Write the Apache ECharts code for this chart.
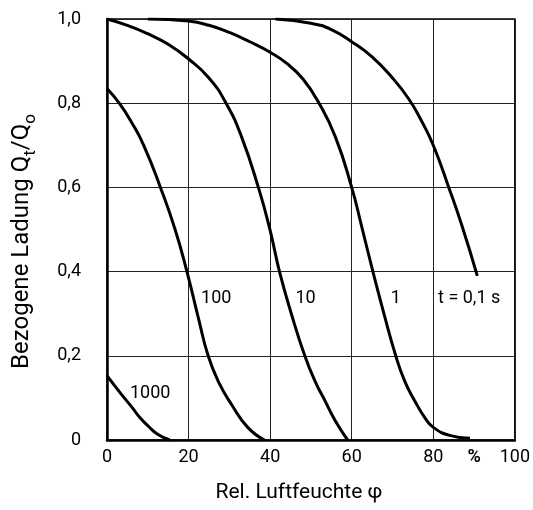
<!DOCTYPE html>
<html>
<head>
<meta charset="utf-8">
<script src="https://cdn.jsdelivr.net/npm/echarts@6/dist/echarts.min.js"></script>
<style>
  html, body { margin: 0; padding: 0; background: #fff; }
  #plot { width: 533px; height: 510px; }
</style>
</head>
<body>
<div id="plot"></div>
<script>
// Charge decay vs. relative humidity, one curve per time t

// DATA: [humidity %, Q_t/Q_0]
const curve1000 = [[0, 0.153], [3, 0.115], [6.1, 0.078], [8, 0.054], [10.2, 0.032], [12.5, 0.013], [15.4, 0.0]];
const curve100 = [[0, 0.835], [3, 0.80], [6, 0.755], [9, 0.70], [13.1, 0.60], [16.7, 0.50], [19.6, 0.40], [22.4, 0.29], [24.8, 0.20], [27.5, 0.135], [30.5, 0.085], [34.5, 0.03], [38.6, 0.0]];
const curve10 = [[0, 1.0], [5, 0.985], [10, 0.965], [15, 0.94], [20, 0.905], [25, 0.86], [29.2, 0.80], [33, 0.72], [37.3, 0.594], [40, 0.498], [42.3, 0.40], [45.2, 0.30], [48.5, 0.20], [51, 0.14], [53.4, 0.094], [56, 0.045], [59, 0.0]];
const curve1 = [[10, 1.0], [20, 0.995], [25, 0.985], [30, 0.968], [35, 0.946], [40, 0.921], [44, 0.895], [48, 0.858], [52, 0.80], [56, 0.72], [60, 0.60], [62.5, 0.505], [65.2, 0.40], [67.9, 0.30], [70.8, 0.20], [73, 0.14], [75.4, 0.094], [78, 0.052], [80, 0.03], [84, 0.011], [89, 0.004]];
const curve01 = [[41.3, 1.0], [50, 0.99], [55, 0.975], [60, 0.946], [65, 0.91], [70, 0.86], [74, 0.81], [77, 0.76], [80, 0.70], [83.8, 0.60], [87, 0.51], [90.8, 0.39]];

const curveNames = ["1000", "100", "10", "1", "t = 0,1 s"];
const curveData = [curve1000, curve100, curve10, curve1, curve01];

// curve labels: [humidity %, Q_t/Q_0, text]
const labelPoints = [[10.6, 0.11, "1000"], [26.8, 0.337, "100"], [48.7, 0.337, "10"], [70.8, 0.337, "1"], [88.8, 0.337, "t = 0,1 s"]];

const xTicks = [0, 20, 40, 60, 80, 100];
const yTicks = [0, 0.2, 0.4, 0.6, 0.8, 1.0];

const fontFamily = "Roboto";

const chart = echarts.init(document.getElementById("plot"));

// one line series per curve
const lineSeries = curveData.map((d, i) => ({
    name: curveNames[i],
    type: "line",
    data: d,
    smooth: 0.5,
    showSymbol: false,
    lineStyle: { color: "#000", width: 3 },
    z: 3
}));

const option = {
    animation: false,
    backgroundColor: "#fff",
    textStyle: { fontFamily: fontFamily },

    grid: {
        left: 107, right: 15, top: 19, bottom: 70,
        show: true,
        borderColor: "#000",
        borderWidth: 1.5
    },

    xAxis: [{
        type: "value",
        min: 0, max: 100, interval: 20,
        name: "Rel. Luftfeuchte φ",
        nameLocation: "middle",
        nameGap: 42,
        nameTextStyle: { fontSize: 21, color: "#000", fontFamily: fontFamily, padding: [0, 24, 0, 0] },
        axisLine: { lineStyle: { color: "#000", width: 2.5 } },
        axisTick: { show: false },
        axisLabel: { fontSize: 18, color: "#000", margin: 8, formatter: v => xTicks.includes(v) ? String(v) : "" },
        splitLine: { lineStyle: { color: "#222", width: 1 } }
    }, {
        // only carries the "%" unit between 80 and 100
        type: "value",
        position: "bottom",
        min: 0, max: 100, interval: 10,
        axisLine: { show: false },
        axisTick: { show: false },
        splitLine: { show: false },
        axisLabel: { fontSize: 18, color: "#000", fontWeight: "bold", margin: 8, formatter: v => v === 90 ? "%" : "" }
    }],

    yAxis: {
        type: "value",
        min: 0, max: 1, interval: 0.2,
        name: "{m|Bezogene Ladung Q}{s|t}{m|/Q}{s|o}",
        nameLocation: "middle",
        nameGap: 68,
        nameTextStyle: {
            color: "#000",
            padding: [0, 24, 0, 0],
            rich: {
                m: { fontSize: 24, color: "#000", fontFamily: fontFamily, lineHeight: 34, verticalAlign: "middle" },
                s: { fontSize: 17, color: "#000", fontFamily: fontFamily, lineHeight: 17, verticalAlign: "bottom" }
            }
        },
        axisLine: { show: true, lineStyle: { color: "#000", width: 2.5 } },
        axisTick: { show: false },
        axisLabel: {
            fontSize: 18, color: "#000", margin: 26,
            formatter: v => v === 0 ? "0" : v.toFixed(1).replace(".", ",")
        },
        splitLine: { lineStyle: { color: "#222", width: 1 } }
    },

    series: lineSeries.concat([{
        type: "scatter",
        data: labelPoints.map(p => ({ value: [p[0], p[1]], name: p[2] })),
        symbolSize: 0,
        silent: true,
        itemStyle: { opacity: 1 },
        label: {
            show: true,
            position: "inside",
            formatter: p => p.name,
            fontSize: 18,
            color: "#000",
            opacity: 1,
            fontFamily: fontFamily
        },
        z: 4
    }])
};

chart.setOption(option);
</script>
</body>
</html>
